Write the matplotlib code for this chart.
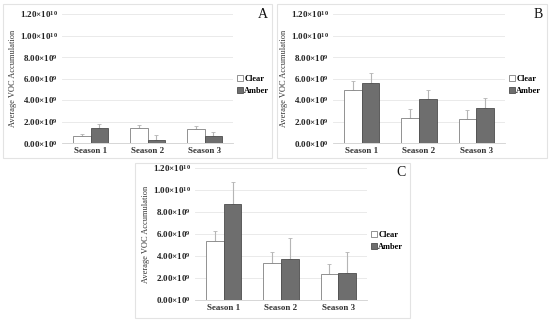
import matplotlib
matplotlib.use("Agg")
import matplotlib.pyplot as plt
from matplotlib.patches import Rectangle
from matplotlib.ticker import FuncFormatter, MultipleLocator
import numpy as np

plt.rcParams['font.family'] = ['Liberation Serif', 'DejaVu Serif']
plt.rcParams['mathtext.fontset'] = 'custom'
plt.rcParams['mathtext.rm'] = 'Liberation Serif'
plt.rcParams['mathtext.bf'] = 'Liberation Serif:bold'

seasons = ["Season 1", "Season 2", "Season 3"]
series = ["Clear", "Amber"]

# values in units of 1e9
a_clear = [0.62, 1.40, 1.26]
a_clear_err = [0.25, 0.25, 0.30]
a_amber = [1.43, 0.31, 0.62]
a_amber_err = [0.31, 0.40, 0.37]

b_clear = [4.90, 2.30, 2.20]
b_clear_err = [0.90, 0.88, 0.88]
b_amber = [5.55, 4.05, 3.22]
b_amber_err = [0.92, 0.92, 0.93]

c_clear = [5.40, 3.36, 2.36]
c_clear_err = [0.90, 0.96, 0.90]
c_amber = [8.75, 3.70, 2.42]
c_amber_err = [1.95, 1.95, 1.95]

panels = [
    ("A", a_clear, a_clear_err, a_amber, a_amber_err),
    ("B", b_clear, b_clear_err, b_amber, b_amber_err),
    ("C", c_clear, c_clear_err, c_amber, c_amber_err),
]

W, H = 550, 322
fig = plt.figure(figsize=(W / 100, H / 100), dpi=100)

# pixel layouts: axes (x0, x1, ytop, ybottom), frame (x0, x1, ytop, ybottom)
axes_px = [(62, 233, 14, 143), (333, 505, 14, 143), (195, 367, 168, 300)]
frame_px = [(3, 272, 4, 158), (277, 547, 4, 158), (135, 410, 163, 318)]


def tickfmt(v, pos):
    val = v * 1e9
    if val <= 0:
        return r'$\mathbf{0.00{\times}10^{0}}$'
    e = int(np.floor(np.log10(val) + 1e-9))
    m = val / 10 ** e
    return r'$\mathbf{%.2f{\times}10^{%d}}$' % (m, e)


clear_color = "white"
clear_edge = "#808080"
amber_color = "#6e6e6e"
amber_edge = "#4d4d4d"
err_color = "#b5b5b5"

for (letter, cv, ce, av, ae), (x0, x1, yt, yb), (fx0, fx1, fyt, fyb) in zip(panels, axes_px, frame_px):
    fig.patches.append(Rectangle((fx0 / W, 1 - fyb / H), (fx1 - fx0) / W, (fyb - fyt) / H,
                                 transform=fig.transFigure, fill=False,
                                 edgecolor="#e3e3e3", linewidth=0.8))
    ax = fig.add_axes([x0 / W, 1 - yb / H, (x1 - x0) / W, (yb - yt) / H])
    x = np.arange(len(seasons))
    w = 0.31
    ax.bar(x - w / 2, cv, w, color=clear_color, edgecolor=clear_edge, linewidth=0.6,
           label=series[0], zorder=3)
    ax.bar(x + w / 2, av, w, color=amber_color, edgecolor=amber_edge, linewidth=0.6,
           label=series[1], zorder=3)
    ax.errorbar(x - w / 2, cv, yerr=[np.zeros(3), ce], fmt="none", ecolor=err_color,
                elinewidth=0.8, capsize=1.2, capthick=0.6, zorder=2)
    ax.errorbar(x + w / 2, av, yerr=[np.zeros(3), ae], fmt="none", ecolor=err_color,
                elinewidth=0.8, capsize=1.2, capthick=0.6, zorder=2)
    ax.set_xlim(-0.5, 2.5)
    ax.set_ylim(0, 12)
    ax.yaxis.set_major_locator(MultipleLocator(2))
    ax.yaxis.set_major_formatter(FuncFormatter(tickfmt))
    ax.set_xticks(x)
    ax.set_xticklabels(seasons, fontsize=6.5, fontweight="bold", color="#333333")
    ax.tick_params(axis="y", labelsize=6.5, length=0, pad=3, colors="#222222")
    ax.tick_params(axis="x", length=0, pad=3)
    ax.grid(axis="y", color="#e6e6e6", linewidth=0.6, zorder=0)
    for s in ["top", "right", "left"]:
        ax.spines[s].set_visible(False)
    ax.spines["bottom"].set_color("#d0d0d0")
    ax.spines["bottom"].set_linewidth(0.6)
    ax.set_ylabel("Average VOC Accumulation", fontsize=6, color="#333333", labelpad=2)
    ax.text((fx1 - 9) / W, 1 - (fyt + 10) / H, letter, transform=fig.transFigure,
            fontsize=10, ha="center", va="center", color="#111111")
    ax.legend(loc="center left", bbox_to_anchor=(1.0, 0.45), frameon=False,
              prop={"size": 6, "weight": "bold"}, handlelength=0.7, handleheight=0.7,
              handletextpad=0.15, labelspacing=0.5, borderaxespad=0.3, borderpad=0.2)

fig.savefig("out.png", dpi=100)
